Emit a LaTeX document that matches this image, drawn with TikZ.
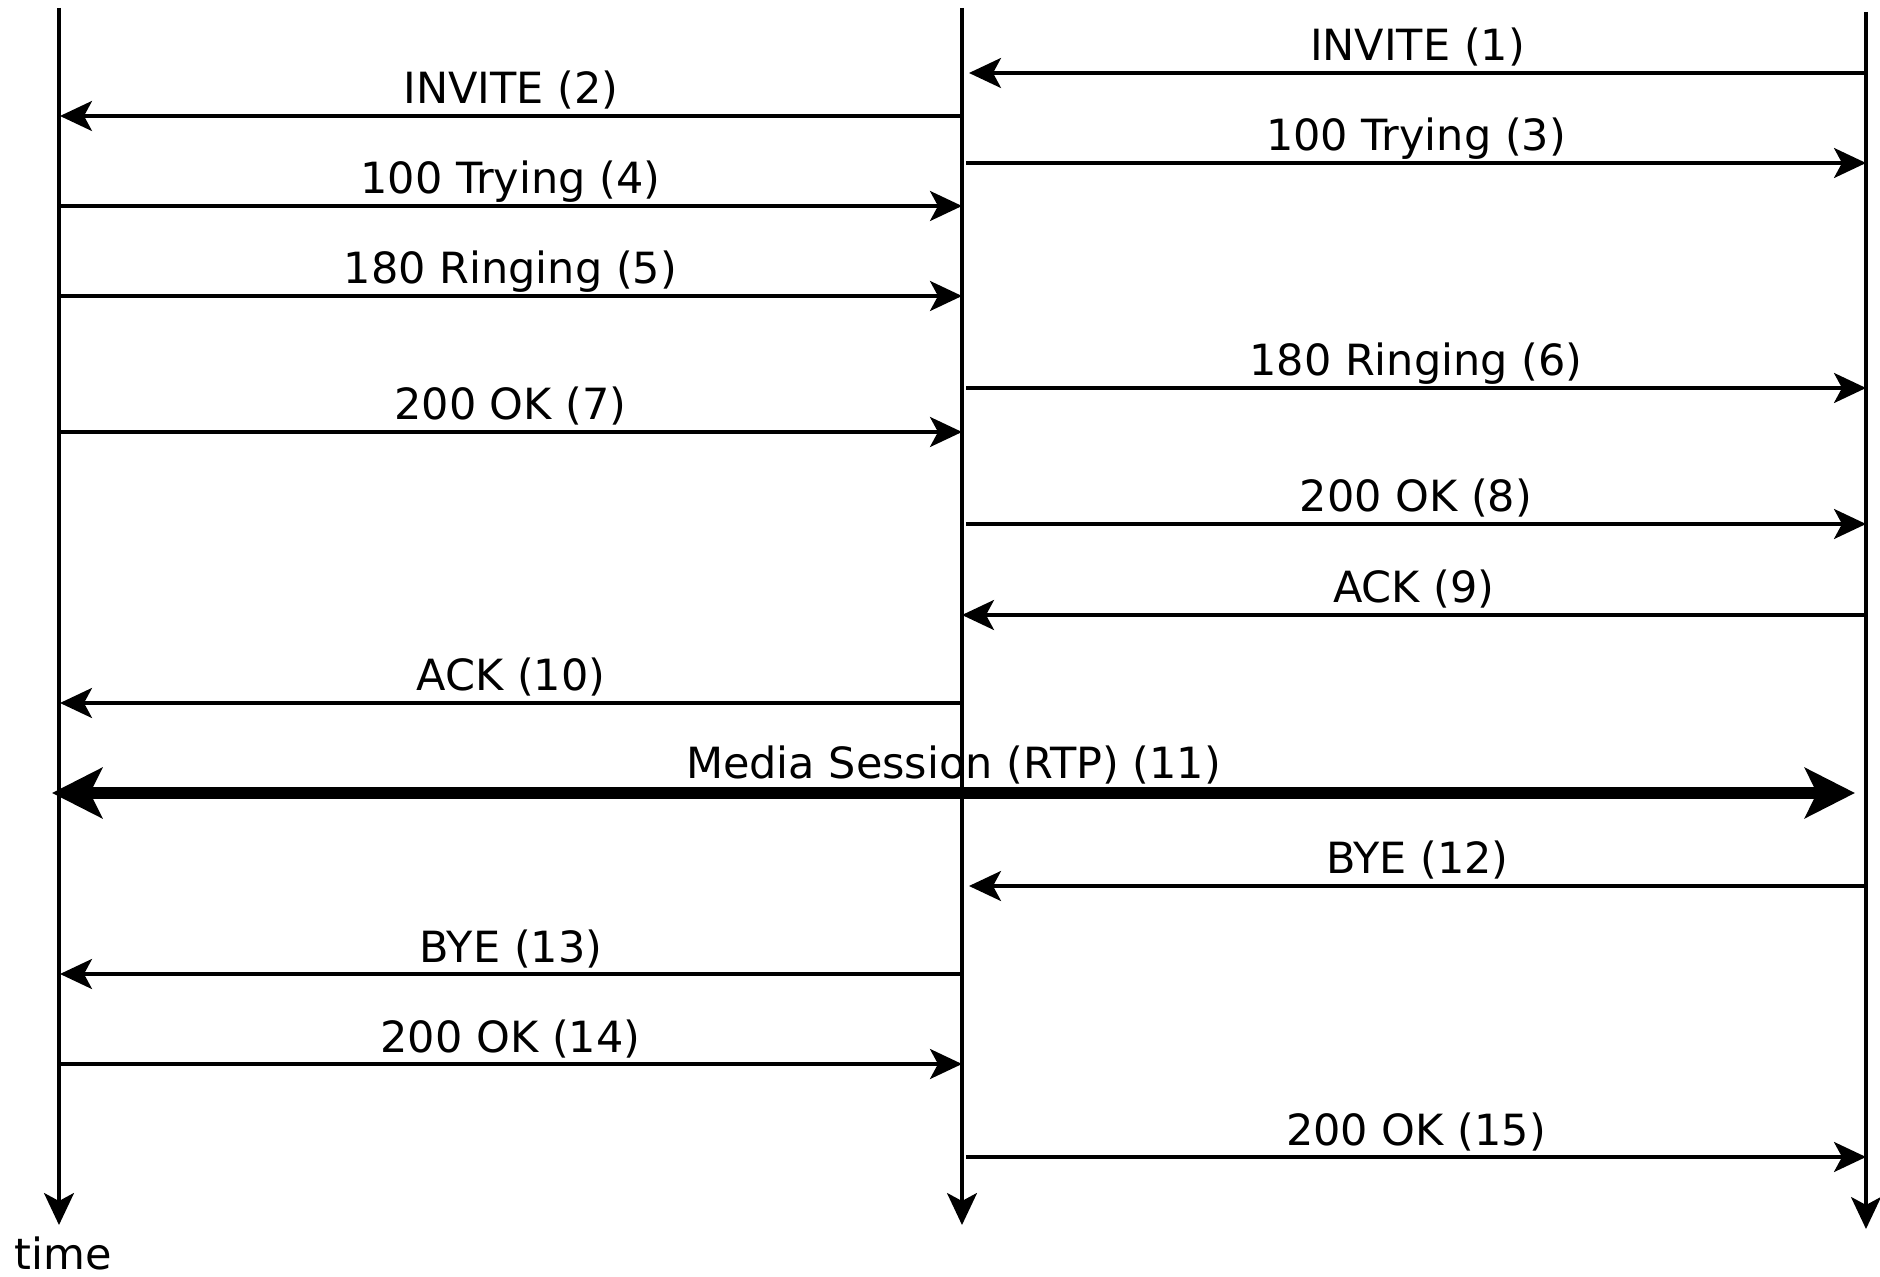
\documentclass[tikz,border=0pt]{standalone}
\usepackage{fontspec}
\setmainfont{DejaVu Sans}
\usetikzlibrary{arrows.meta}
\begin{document}
\begin{tikzpicture}[x=0.5pt,y=-0.5pt,
  life/.style={line width=1.6pt,-{Stealth[length=16pt,width=15pt,inset=4pt]}},
  msg/.style={line width=1.7pt,-{Stealth[length=16pt,width=15pt,inset=4pt]}},
  media/.style={line width=6.3pt,{Stealth[length=25pt,width=25pt,inset=6pt]}-{Stealth[length=25pt,width=25pt,inset=6pt]}},
  lab/.style={anchor=base,yshift=6pt,inner sep=0pt,font=\fontsize{21.5}{26}\selectfont}]
\useasboundingbox (0,0) rectangle (1880,1277);
% lifelines
\coordinate (Lt) at (59,8);   \coordinate (Lb) at (59,1225);
\coordinate (Mt) at (962,8);  \coordinate (Mb) at (962,1225);
\coordinate (Rt) at (1866,12); \coordinate (Rb) at (1866,1229);
\draw[life] (Lt) -- (Lb);
\draw[life] (Mt) -- (Mb);
\draw[life] (Rt) -- (Rb);
\node[font=\fontsize{21.5}{26}\selectfont,inner sep=0pt] (time) at (63,1253) {time};
% message endpoints
\coordinate (a1) at (1866,73);  \coordinate (b1) at (969,73);
\coordinate (a2) at (962,116);  \coordinate (b2) at (60,116);
\coordinate (a3) at (966,163);  \coordinate (b3) at (1866,163);
\coordinate (a4) at (59,206);   \coordinate (b4) at (962,206);
\coordinate (a5) at (59,296);   \coordinate (b5) at (962,296);
\coordinate (a6) at (966,388);  \coordinate (b6) at (1866,388);
\coordinate (a7) at (59,432);   \coordinate (b7) at (962,432);
\coordinate (a8) at (966,524);  \coordinate (b8) at (1866,524);
\coordinate (a9) at (1866,615); \coordinate (b9) at (962,615);
\coordinate (a10) at (962,703); \coordinate (b10) at (60,703);
\coordinate (a11) at (52,793);  \coordinate (b11) at (1855,793);
\coordinate (a12) at (1866,886); \coordinate (b12) at (969,886);
\coordinate (a13) at (962,974); \coordinate (b13) at (60,974);
\coordinate (a14) at (59,1064); \coordinate (b14) at (962,1064);
\coordinate (a15) at (966,1157); \coordinate (b15) at (1866,1157);
% messages
\draw[msg] (a1) -- node[lab] (t1) {INVITE (1)} (b1);
\draw[msg] (a2) -- node[lab] (t2) {INVITE (2)} (b2);
\draw[msg] (a3) -- node[lab] (t3) {100 Trying (3)} (b3);
\draw[msg] (a4) -- node[lab] (t4) {100 Trying (4)} (b4);
\draw[msg] (a5) -- node[lab] (t5) {180 Ringing (5)} (b5);
\draw[msg] (a6) -- node[lab] (t6) {180 Ringing (6)} (b6);
\draw[msg] (a7) -- node[lab] (t7) {200 OK (7)} (b7);
\draw[msg] (a8) -- node[lab] (t8) {200 OK (8)} (b8);
\draw[msg] (a9) -- node[lab] (t9) {ACK (9)} (b9);
\draw[msg] (a10) -- node[lab] (t10) {ACK (10)} (b10);
\draw[media] (a11) -- node[lab,yshift=1pt] (t11) {Media Session (RTP) (11)} (b11);
\draw[msg] (a12) -- node[lab] (t12) {BYE (12)} (b12);
\draw[msg] (a13) -- node[lab] (t13) {BYE (13)} (b13);
\draw[msg] (a14) -- node[lab] (t14) {200 OK (14)} (b14);
\draw[msg] (a15) -- node[lab] (t15) {200 OK (15)} (b15);
\end{tikzpicture}
\end{document}
